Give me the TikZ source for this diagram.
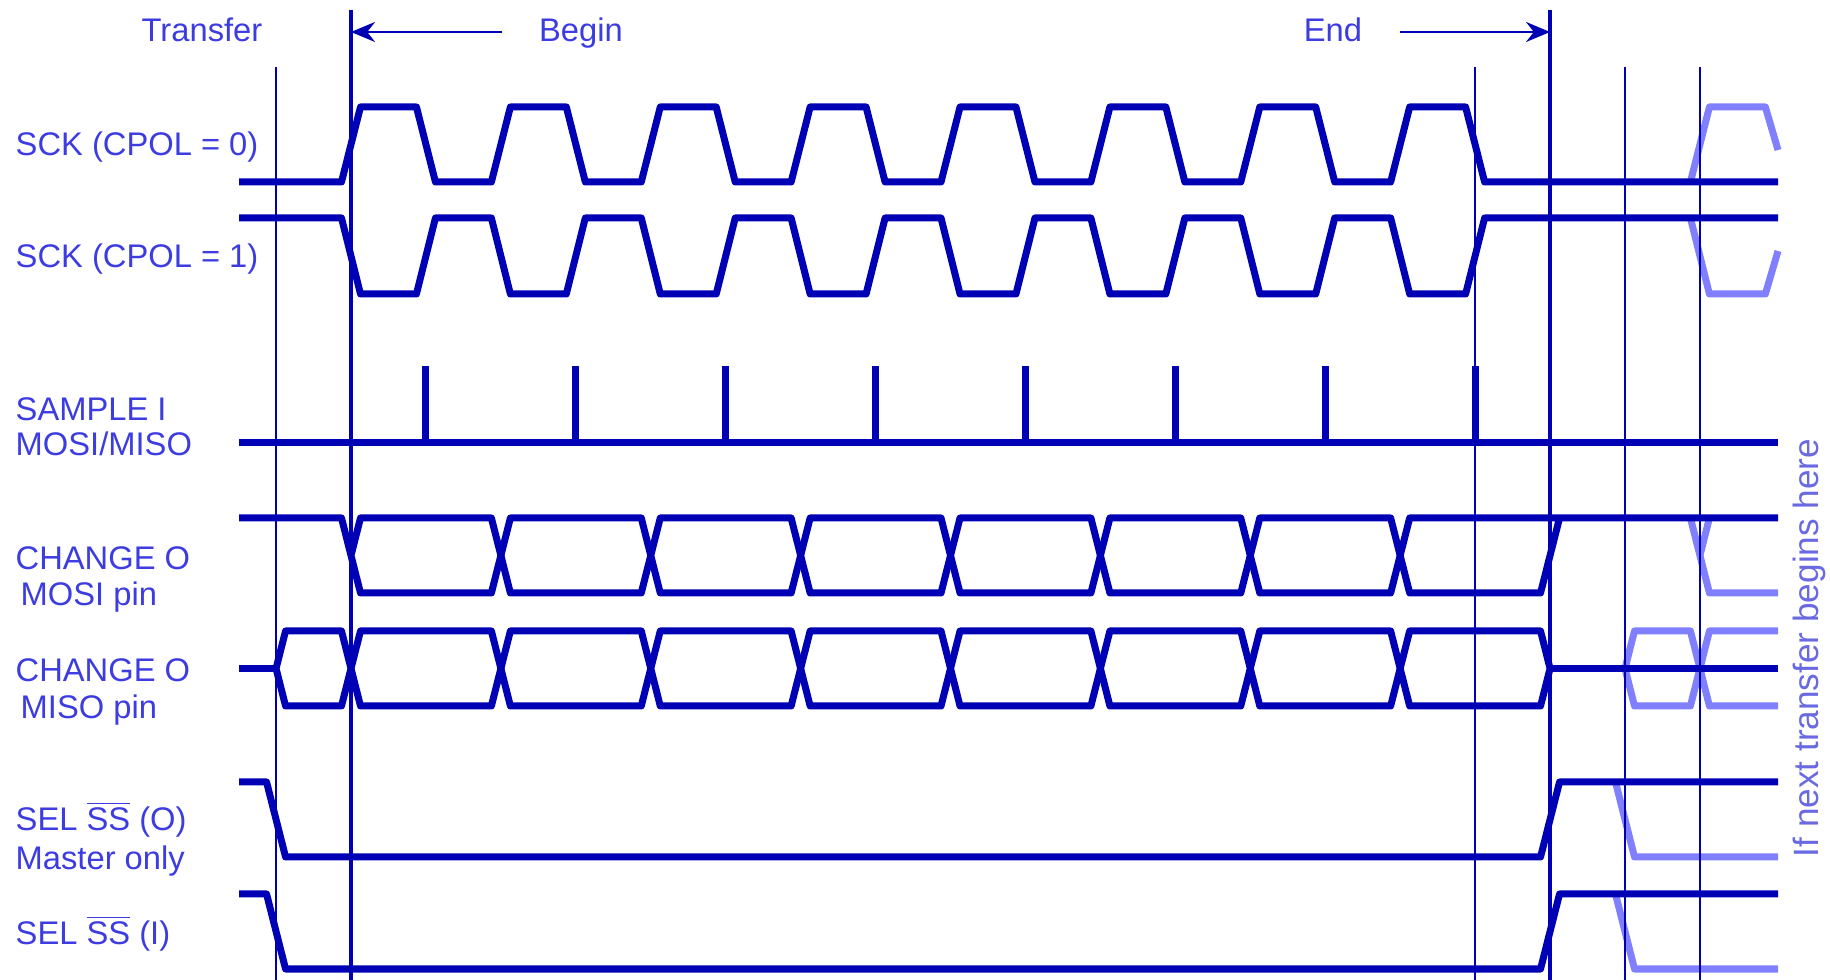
\documentclass[tikz,border=0pt]{standalone}
\usepackage{fontspec}
\setmainfont{Liberation Sans}
\usetikzlibrary{arrows.meta}

\definecolor{sigblue}{RGB}{0,0,180}
\definecolor{txtblue}{RGB}{60,60,225}
\definecolor{ghostblue}{RGB}{128,128,255}
\definecolor{noteblue}{RGB}{105,105,225}

\newcommand{\tstart}{351}   % first clock edge
\newcommand{\thalf}{74.94}  % half clock period
\newcommand{\tedge}{9.5}    % half edge width
\newcommand{\ssbar}{$\overline{\mbox{SS}}$}

\tikzset{
  sig/.style={draw=sigblue, line width=0.07cm, line join=round},
  ghost/.style={draw=ghostblue, line width=0.07cm, line join=round},
  marker/.style={draw=sigblue, line width=0.7pt},
  guide/.style={draw=sigblue, line width=0.7pt, -{Stealth[length=0.24cm,width=0.2cm]}},
  lbl/.style={text=txtblue, font=\fontsize{9.3}{11}\selectfont, inner sep=0pt, anchor=base west},
  hdr/.style={text=txtblue, font=\fontsize{9.3}{11}\selectfont, inner sep=0pt, anchor=base},
  note/.style={text=noteblue, font=\fontsize{10}{12}\selectfont, inner sep=0pt, rotate=90}
}

\begin{document}
\begin{tikzpicture}[x=0.01cm, y=-0.01cm]
  \useasboundingbox (0,0) rectangle (1830,980);

  % Header
  \node[hdr] (transfer) at (202,42) {Transfer};
  \node[hdr] (begin) at (581,42) {Begin};
  \node[hdr] (end) at (1333,42) {End};
  \coordinate (tbegin) at (\tstart,32);
  \coordinate (tend) at ({\tstart+16*\thalf},32);
  \coordinate (bfrom) at (502,32);
  \coordinate (efrom) at (1400,32);
  \draw[guide] (bfrom) -- (tbegin);
  \draw[guide] (efrom) -- (tend);

  % Labels
  \node[lbl] (lsck0) at (15,156) {SCK (CPOL = 0)};
  \node[lbl] (lsck1) at (15,268) {SCK (CPOL = 1)};
  \node[lbl] (lsmp) at (15,421) {SAMPLE I};
  \node[lbl] (lsmpb) at (15,456) {MOSI/MISO};
  \node[lbl] (lmosi) at (15,570) {CHANGE O};
  \node[lbl] (lmosib) at (20,606) {MOSI pin};
  \node[lbl] (lmiso) at (15,682) {CHANGE O};
  \node[lbl] (lmisob) at (20,719) {MISO pin};
  \node[lbl] (lsso) at (15,831) {SEL \ssbar{} (O)};
  \node[lbl] (lssob) at (15,870) {Master only};
  \node[lbl] (lssi) at (15,945) {SEL \ssbar{} (I)};
  \node[note] (nextnote) at (1809,648) {If next transfer begins here};

  % Next transfer (light)
  \draw[ghost] ({\tstart+18*\thalf-\tedge},182) -- ({\tstart+18*\thalf+\tedge},107)
    -- ({\tstart+19*\thalf-\tedge},107) -- (1778,150);
  \draw[ghost] ({\tstart+18*\thalf-\tedge},218) -- ({\tstart+18*\thalf+\tedge},294)
    -- ({\tstart+19*\thalf-\tedge},294) -- (1778,251);
  \draw[ghost] ({\tstart+18*\thalf-\tedge},518) -- ({\tstart+18*\thalf+\tedge},593) -- (1778,593);
  \draw[ghost] ({\tstart+18*\thalf},555.5) -- ({\tstart+18*\thalf+\tedge},518);
  \draw[ghost] (1778,631) -- ({\tstart+18*\thalf+\tedge},631) -- ({\tstart+18*\thalf},668.5)
    -- ({\tstart+18*\thalf-\tedge},631) -- ({\tstart+17*\thalf+\tedge},631)
    -- ({\tstart+17*\thalf},668.5) -- ({\tstart+17*\thalf+\tedge},706)
    -- ({\tstart+18*\thalf-\tedge},706) -- ({\tstart+18*\thalf},668.5)
    -- ({\tstart+18*\thalf+\tedge},706) -- (1778,706);
  \draw[ghost] ({\tstart+17*\thalf-\tedge},782) -- ({\tstart+17*\thalf+\tedge},857) -- (1778,857);
  \draw[ghost] ({\tstart+17*\thalf-\tedge},894) -- ({\tstart+17*\thalf+\tedge},969) -- (1778,969);

  % SCK (CPOL = 0)
  \draw[sig] (239,182) \foreach \k in {0,...,7} {
    -- ({\tstart+2*\k*\thalf-\tedge},182) -- ({\tstart+2*\k*\thalf+\tedge},107)
    -- ({\tstart+(2*\k+1)*\thalf-\tedge},107) -- ({\tstart+(2*\k+1)*\thalf+\tedge},182)
  } -- (1778,182);

  % SCK (CPOL = 1)
  \draw[sig] (239,218) \foreach \k in {0,...,7} {
    -- ({\tstart+2*\k*\thalf-\tedge},218) -- ({\tstart+2*\k*\thalf+\tedge},294)
    -- ({\tstart+(2*\k+1)*\thalf-\tedge},294) -- ({\tstart+(2*\k+1)*\thalf+\tedge},218)
  } -- (1778,218);

  % Sample strobes
  \draw[sig] (239,443) -- (1778,443);
  \foreach \k in {0,...,7}
    \draw[sig] ({\tstart+(2*\k+1)*\thalf},443) -- ({\tstart+(2*\k+1)*\thalf},366);

  % MOSI
  \draw[sig] (239,518) -- ({\tstart-\tedge},518) -- ({\tstart+\tedge},593)
    -- ({\tstart+2*\thalf-\tedge},593) -- ({\tstart+2*\thalf},555.5)
    -- ({\tstart+2*\thalf-\tedge},518) -- ({\tstart+\tedge},518) -- (\tstart,555.5);
  \foreach \k in {1,...,6}
    \draw[sig] ({\tstart+2*\k*\thalf},555.5) -- ({\tstart+2*\k*\thalf+\tedge},518)
      -- ({\tstart+2*(\k+1)*\thalf-\tedge},518) -- ({\tstart+2*(\k+1)*\thalf},555.5)
      -- ({\tstart+2*(\k+1)*\thalf-\tedge},593) -- ({\tstart+2*\k*\thalf+\tedge},593) -- cycle;
  \draw[sig] (1778,518) -- ({\tstart+14*\thalf+\tedge},518) -- ({\tstart+14*\thalf},555.5)
    -- ({\tstart+14*\thalf+\tedge},593) -- ({\tstart+16*\thalf-\tedge},593)
    -- ({\tstart+16*\thalf+\tedge},518);

  % MISO
  \draw[sig] (239,668.5) -- ({\tstart-\thalf},668.5);
  \draw[sig] ({\tstart-\thalf},668.5) -- ({\tstart-\thalf+\tedge},631) -- ({\tstart-\tedge},631)
    -- (\tstart,668.5) -- ({\tstart-\tedge},706) -- ({\tstart-\thalf+\tedge},706) -- cycle;
  \foreach \k in {0,...,7}
    \draw[sig] ({\tstart+2*\k*\thalf},668.5) -- ({\tstart+2*\k*\thalf+\tedge},631)
      -- ({\tstart+2*(\k+1)*\thalf-\tedge},631) -- ({\tstart+2*(\k+1)*\thalf},668.5)
      -- ({\tstart+2*(\k+1)*\thalf-\tedge},706) -- ({\tstart+2*\k*\thalf+\tedge},706) -- cycle;
  \draw[sig] ({\tstart+16*\thalf},668.5) -- (1778,668.5);

  % SEL SS (O) and SEL SS (I)
  \foreach \yh/\yl in {782/857, 894/969}
    \draw[sig] (239,\yh) -- ({\tstart-\thalf-\tedge},\yh) -- ({\tstart-\thalf+\tedge},\yl)
      -- ({\tstart+16*\thalf-\tedge},\yl) -- ({\tstart+16*\thalf+\tedge},\yh) -- (1778,\yh);

  % Timing markers
  \foreach \k in {-1,15,17,18}
    \draw[marker] ({\tstart+\k*\thalf},67) -- ({\tstart+\k*\thalf},980);
  \foreach \k in {0,16}
    \draw[marker, line width=1pt] ({\tstart+\k*\thalf},10) -- ({\tstart+\k*\thalf},980);
\end{tikzpicture}
\end{document}
